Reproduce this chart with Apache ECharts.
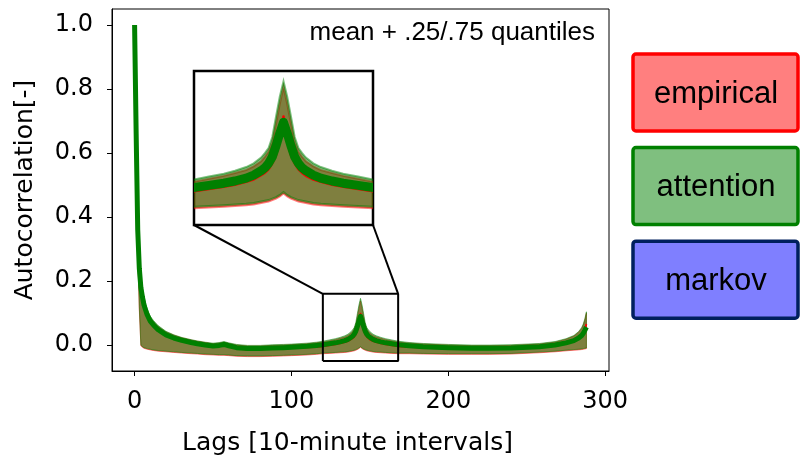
<!DOCTYPE html>
<html lang="en">
<head>
    <meta charset="UTF-8">
    <title>Autocorrelation</title>
    <script src="https://cdn.jsdelivr.net/npm/echarts@6/dist/echarts.min.js"></script>
    <style>
        html, body {
            margin: 0;
            padding: 0;
            background: #fff;
        }

        #main {
            width: 800px;
            height: 457px;
        }
    </style>
</head>
<body>
<div id="main"></div>
<script>
    // lags sampled from the figure (10-minute intervals)
    var lags = [0, 1, 2, 3, 4, 5, 6, 8, 10, 12, 15, 20, 25, 30, 36, 40, 45, 50, 54, 57, 60, 65, 72, 80, 88, 95,
        100, 110, 116, 120, 124, 128, 131, 134, 136, 138, 139, 140, 141, 142, 143, 144, 145, 146, 147, 148, 149,
        150, 152, 154, 157, 160, 164, 168, 175, 184, 200, 215, 226, 240, 258, 268, 275, 280, 283, 285, 286, 287, 288];

    var empMean = [1.0, 0.65, 0.35, 0.235, 0.178, 0.148, 0.123, 0.093, 0.073, 0.062, 0.048, 0.033, 0.024, 0.017,
        0.01, 0.005, 0.0, -0.004, -0.002, 0.001, -0.004, -0.01, -0.015, -0.014, -0.011, -0.01, -0.009, -0.007,
        -0.006, -0.004, -0.001, 0.002, 0.005, 0.009, 0.012, 0.018, 0.021, 0.026, 0.034, 0.045, 0.064, 0.098, 0.064,
        0.045, 0.034, 0.026, 0.021, 0.017, 0.012, 0.009, 0.005, 0.002, -0.001, -0.004, -0.006, -0.007, -0.01, -0.012,
        -0.011, -0.01, -0.006, -0.001, 0.006, 0.013, 0.02, 0.028, 0.036, 0.048, 0.066];
    var empQ25 = [1.0, 0.59, 0.29, 0.11, -0.002, -0.007, -0.01, -0.013, -0.015, -0.017, -0.019, -0.021, -0.023,
        -0.025, -0.027, -0.028, -0.03, -0.031, -0.032, -0.032, -0.033, -0.035, -0.036, -0.036, -0.035, -0.034,
        -0.033, -0.031, -0.029, -0.027, -0.026, -0.025, -0.024, -0.023, -0.022, -0.02, -0.019, -0.018, -0.016,
        -0.014, -0.011, -0.007, -0.011, -0.014, -0.016, -0.018, -0.019, -0.02, -0.022, -0.023, -0.024, -0.025,
        -0.026, -0.027, -0.027, -0.028, -0.029, -0.029, -0.029, -0.028, -0.024, -0.021, -0.018, -0.016, -0.015,
        -0.014, -0.013, -0.012, -0.011];
    var empQ75 = [1.0, 0.71, 0.42, 0.27, 0.205, 0.17, 0.143, 0.108, 0.086, 0.073, 0.058, 0.041, 0.031, 0.023,
        0.016, 0.012, 0.008, 0.004, 0.006, 0.009, 0.005, 0.0, -0.003, -0.003, -0.001, 0.0, 0.001, 0.004, 0.007,
        0.009, 0.013, 0.017, 0.021, 0.025, 0.03, 0.037, 0.043, 0.05, 0.063, 0.088, 0.115, 0.138, 0.115, 0.088,
        0.063, 0.05, 0.043, 0.037, 0.03, 0.025, 0.021, 0.017, 0.013, 0.009, 0.006, 0.003, 0.0, -0.002, -0.002,
        -0.001, 0.003, 0.009, 0.018, 0.028, 0.04, 0.052, 0.062, 0.078, 0.1];

    var attMean = [1.0, 0.66, 0.36, 0.24, 0.18, 0.15, 0.125, 0.095, 0.075, 0.063, 0.048, 0.032, 0.022, 0.015,
        0.008, 0.004, 0.0, -0.003, -0.001, 0.002, -0.002, -0.008, -0.011, -0.011, -0.009, -0.008, -0.007, -0.004,
        -0.001, 0.001, 0.004, 0.007, 0.01, 0.014, 0.018, 0.024, 0.028, 0.034, 0.043, 0.058, 0.075, 0.09, 0.075,
        0.058, 0.043, 0.034, 0.028, 0.024, 0.018, 0.014, 0.01, 0.007, 0.004, 0.001, -0.002, -0.005, -0.008, -0.01,
        -0.01, -0.009, -0.005, 0.0, 0.007, 0.014, 0.022, 0.03, 0.037, 0.046, 0.056];
    var attQ25 = [1.0, 0.6, 0.3, 0.12, 0.0, -0.005, -0.008, -0.011, -0.013, -0.015, -0.017, -0.019, -0.021,
        -0.023, -0.025, -0.026, -0.028, -0.029, -0.03, -0.03, -0.031, -0.033, -0.034, -0.034, -0.033, -0.032,
        -0.031, -0.029, -0.027, -0.025, -0.024, -0.023, -0.022, -0.021, -0.02, -0.018, -0.017, -0.016, -0.014,
        -0.012, -0.009, -0.005, -0.009, -0.012, -0.014, -0.016, -0.017, -0.018, -0.02, -0.021, -0.022, -0.023,
        -0.024, -0.025, -0.025, -0.026, -0.027, -0.027, -0.027, -0.026, -0.022, -0.019, -0.016, -0.014, -0.013,
        -0.012, -0.011, -0.01, -0.009];
    var attQ75 = [1.0, 0.72, 0.43, 0.28, 0.215, 0.178, 0.15, 0.113, 0.09, 0.077, 0.061, 0.043, 0.032, 0.024,
        0.017, 0.013, 0.009, 0.006, 0.008, 0.011, 0.007, 0.002, -0.001, -0.001, 0.001, 0.002, 0.003, 0.006, 0.009,
        0.012, 0.016, 0.02, 0.024, 0.029, 0.034, 0.042, 0.048, 0.055, 0.07, 0.098, 0.125, 0.146, 0.125, 0.098,
        0.07, 0.055, 0.048, 0.042, 0.034, 0.029, 0.024, 0.02, 0.016, 0.012, 0.008, 0.005, 0.002, 0.0, 0.0, 0.001,
        0.005, 0.011, 0.02, 0.03, 0.042, 0.055, 0.066, 0.082, 0.104];

    var xTicks = [0, 100, 200, 300];
    var yTicks = [0, 0.2, 0.4, 0.6, 0.8, 1.0];
    var insetX = [120, 168];
    var insetY = [-0.05, 0.16];
    var legendNames = ['empirical', 'attention', 'markov'];
    var legendFill = ['rgba(255,0,0,0.5)', 'rgba(0,128,0,0.5)', 'rgba(0,0,255,0.5)'];
    var legendEdge = ['#ff0000', '#008000', '#00205e'];

    var myChart = echarts.init(document.getElementById('main'));

    function clipRect(cs) {
        return {type: 'rect', shape: {x: cs.x, y: cs.y, width: cs.width, height: cs.height}};
    }

    // quantile band as one polygon, drawn through the axes of grid g
    function band(lo, hi, color, g, z) {
        return {
            type: 'custom', xAxisIndex: g, yAxisIndex: g, silent: true, z: z,
            data: lags.map(function (x, i) {
                return [x, lo[i], hi[i]];
            }),
            encode: {x: 0, y: [1, 2]},
            renderItem: function (params, api) {
                if (params.dataIndex !== 0) return null;
                var n = params.dataInsideLength, pts = [], i;
                for (i = 0; i < n; i++) pts.push(api.coord([api.value(0, i), api.value(2, i)]));
                for (i = n - 1; i >= 0; i--) pts.push(api.coord([api.value(0, i), api.value(1, i)]));
                return {
                    type: 'polygon',
                    shape: {points: pts},
                    style: {fill: color, stroke: color, lineWidth: g ? 2 : 1},
                    clipPath: clipRect(params.coordSys)
                };
            }
        };
    }

    // mean curve as a clipped polyline
    function meanLine(ys, color, width, g, z) {
        return {
            type: 'custom', xAxisIndex: g, yAxisIndex: g, silent: true, z: z,
            data: lags.map(function (x, i) {
                return [x, ys[i]];
            }),
            encode: {x: 0, y: 1},
            renderItem: function (params, api) {
                if (params.dataIndex !== 0) return null;
                var n = params.dataInsideLength, pts = [];
                for (var i = 0; i < n; i++) pts.push(api.coord([api.value(0, i), api.value(1, i)]));
                return {
                    type: 'polyline',
                    shape: {points: pts},
                    style: {fill: null, stroke: color, lineWidth: width, lineCap: 'butt', lineJoin: 'round'},
                    clipPath: clipRect(params.coordSys)
                };
            }
        };
    }

    var series = [];
    [0, 1].forEach(function (g) {
        var z = g ? 6 : 2;
        series.push(band(empQ25, empQ75, 'rgba(255,0,0,0.5)', g, z));
        series.push(band(attQ25, attQ75, 'rgba(0,128,0,0.5)', g, z));
        series.push(meanLine(empMean, '#ff0000', g ? 2.5 : 1.8, g, z));
        series.push(meanLine(attMean, '#008000', g ? 9 : 5, g, z));
    });

    // zoomed region outline in the main axes
    series.push({
        type: 'line', xAxisIndex: 0, yAxisIndex: 0, symbol: 'none', silent: true, z: 4,
        lineStyle: {color: '#000', width: 2},
        data: [[insetX[0], insetY[0]], [insetX[1], insetY[0]], [insetX[1], insetY[1]],
            [insetX[0], insetY[1]], [insetX[0], insetY[0]]]
    });

    var tickFont = {fontFamily: 'DejaVu Sans', fontSize: 24, color: '#000'};

    var graphics = [{
        type: 'text', id: 'note', x: 595, y: 33, z: 100,
        style: {
            text: 'mean + .25/.75 quantiles', fontFamily: 'Liberation Sans', fontSize: 26,
            fill: '#000', align: 'right', verticalAlign: 'middle'
        }
    }];
    legendNames.forEach(function (name, i) {
        var top = 54 + i * 93.6;
        graphics.push({
            type: 'rect', id: 'lg' + i, z: 100,
            shape: {x: 633, y: top, width: 165, height: 77, r: 3},
            style: {fill: legendFill[i], stroke: legendEdge[i], lineWidth: 3.5}
        });
        graphics.push({
            type: 'text', id: 'lt' + i, z: 101, x: 716, y: top + 40,
            style: {
                text: name, fontFamily: 'Liberation Sans', fontSize: 31, fill: '#000',
                align: 'center', verticalAlign: 'middle'
            }
        });
    });

    var option = {
        animation: false,
        grid: [
            {left: 112, top: 9, width: 497, height: 362, show: true, borderColor: '#000', borderWidth: 1,
                backgroundColor: 'transparent', outerBoundsMode: 'none'},
            {left: 194, top: 71, width: 179, height: 154, show: true, borderColor: '#000', borderWidth: 2.5,
                backgroundColor: '#fff', z: 5, outerBoundsMode: 'none'}
        ],
        xAxis: [
            {
                type: 'value', gridIndex: 0, min: -14.4, max: 302.4,
                name: 'Lags [10-minute intervals]', nameLocation: 'middle', nameGap: 60,
                nameTextStyle: {fontFamily: 'DejaVu Sans', fontSize: 25, color: '#000', padding: [0, 26, 0, 0]},
                axisLine: {show: true, onZero: false, lineStyle: {color: '#000', width: 1}},
                axisTick: {show: true, length: 5, customValues: xTicks, lineStyle: {color: '#000'}},
                axisLabel: Object.assign({customValues: xTicks, margin: 19}, tickFont),
                splitLine: {show: false}
            },
            {
                type: 'value', gridIndex: 1, min: insetX[0], max: insetX[1], show: false,
                splitLine: {show: false}
            }
        ],
        yAxis: [
            {
                type: 'value', gridIndex: 0, min: -0.081, max: 1.05,
                name: 'Autocorrelation[-]', nameLocation: 'middle', nameGap: 74, nameRotate: 90,
                nameTextStyle: {fontFamily: 'DejaVu Sans', fontSize: 25, color: '#000'},
                axisLine: {show: true, onZero: false, lineStyle: {color: '#000', width: 1}},
                axisTick: {show: true, length: 5, customValues: yTicks, lineStyle: {color: '#000'}},
                axisLabel: Object.assign({
                    customValues: yTicks, margin: 19,
                    formatter: function (v) {
                        return v.toFixed(1);
                    }
                }, tickFont),
                splitLine: {show: false}
            },
            {
                type: 'value', gridIndex: 1, min: insetY[0], max: insetY[1], show: false,
                splitLine: {show: false}
            }
        ],
        graphic: graphics,
        series: series
    };
    myChart.setOption(option);

    // connector lines between inset and zoomed region
    var bl = myChart.convertToPixel({xAxisIndex: 1, yAxisIndex: 1}, [insetX[0], insetY[0]]);
    var br = myChart.convertToPixel({xAxisIndex: 1, yAxisIndex: 1}, [insetX[1], insetY[0]]);
    var zl = myChart.convertToPixel({xAxisIndex: 0, yAxisIndex: 0}, [insetX[0], insetY[1]]);
    var zr = myChart.convertToPixel({xAxisIndex: 0, yAxisIndex: 0}, [insetX[1], insetY[1]]);
    myChart.setOption({
        graphic: [
            {type: 'line', id: 'c1', z: 50, shape: {x1: bl[0], y1: bl[1], x2: zl[0], y2: zl[1]},
                style: {stroke: '#000', lineWidth: 2}},
            {type: 'line', id: 'c2', z: 50, shape: {x1: br[0], y1: br[1], x2: zr[0], y2: zr[1]},
                style: {stroke: '#000', lineWidth: 2}}
        ]
    });
</script>
</body>
</html>
